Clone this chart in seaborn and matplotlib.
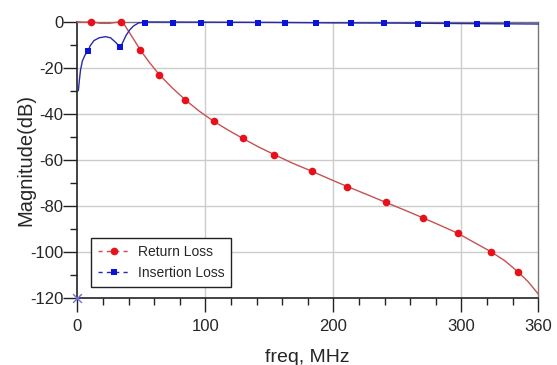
import matplotlib
matplotlib.use("Agg")
import matplotlib.pyplot as plt
import seaborn as sns
from matplotlib.lines import Line2D
from matplotlib.ticker import FixedLocator

# Return Loss curve (freq MHz, dB)
rl_freq = [0, 5, 11, 18, 25, 33.9, 37, 41, 45, 49.2, 56, 64, 74, 84.4, 95, 106.5, 118,
           129.1, 141, 153.9, 168, 183.1, 197, 211, 226, 241.1, 256, 270, 284, 297.2,
           310, 323, 334, 344, 352, 360]
rl_db = [0, -0.2, 0, -0.7, -0.7, 0, -1.5, -5, -8.5, -12.3, -17.5, -23, -28.7, -34, -38.8,
         -43.3, -47.2, -50.7, -54.3, -57.8, -61.5, -65, -68.4, -71.7, -75.1, -78.6, -82,
         -85.3, -88.7, -92, -96, -100, -104, -108.7, -113, -118.4]
rl_mark_freq = [10.9, 33.9, 49.2, 64, 84.4, 106.5, 129.1, 153.9, 183.1, 211, 241.1, 270,
                297.2, 323, 344]
rl_mark_db = [0, 0, -12.3, -23, -34, -43.3, -50.7, -57.8, -65, -71.7, -78.6, -85.3, -92,
              -100, -108.7]

# Insertion Loss curve
il_freq = [0.8, 1.5, 2.5, 4, 6, 8.3, 10, 13, 17, 22, 26, 30, 33.6, 35.5, 38, 41, 44, 48,
           54, 100, 150, 200, 250, 300, 360]
il_db = [-30, -26, -21, -17, -14.5, -12.8, -10.5, -8.2, -7, -6.5, -7, -9, -11.2, -9, -6,
         -3.5, -1.8, -0.5, -0.1, -0.2, -0.3, -0.5, -0.6, -0.8, -1]
il_mark_freq = [8.3, 33.6, 53.1, 74.7, 96.6, 119.5, 140.9, 162.5, 186.5, 213.8, 239.3,
                265.9, 288.8, 312.3, 335.7]
il_mark_db = [-12.8, -11.2, -0.4, -0.4, -0.4, -0.4, -0.4, -0.5, -0.5, -0.6, -0.7, -0.8,
              -0.8, -1.0, -1.0]

dc_freq = [0]
dc_db = [-120]

x_major = [0, 100, 200, 300, 360]
x_minor = [20, 40, 60, 80, 120, 140, 160, 180, 220, 240, 260, 280, 320, 340]
y_major = [0, -20, -40, -60, -80, -100, -120]
y_minor = [-10, -30, -50, -70, -90, -110]

sns.set_style("white")
plt.rcParams['font.family'] = ['Liberation Sans', 'DejaVu Sans']

fig = plt.figure(figsize=(5.57, 3.65), dpi=100)
ax = fig.add_axes([0.1388, 0.1844, 0.8276, 0.7561])

red_line = '#c85050'
red_mark = '#e8101a'
blue_line = '#2a2aa8'
blue_mark = '#0a14d8'

sns.lineplot(x=rl_freq, y=rl_db, ax=ax, color=red_line, lw=1.0, sort=False,
             estimator=None, zorder=3)
sns.lineplot(x=il_freq, y=il_db, ax=ax, color=blue_line, lw=1.0, sort=False,
             estimator=None, zorder=3)
sns.scatterplot(x=rl_mark_freq, y=rl_mark_db, ax=ax, color=red_mark, marker='o', s=30,
                linewidth=0, zorder=4, clip_on=False)
sns.scatterplot(x=il_mark_freq, y=il_mark_db, ax=ax, color=blue_mark, marker='s', s=24,
                linewidth=0, zorder=4, clip_on=False)
sns.scatterplot(x=dc_freq, y=dc_db, ax=ax, color='#7070d0', marker='x', s=40,
                linewidth=1.0, zorder=5, clip_on=False)
for ln in ax.lines:
    ln.set_clip_on(False)

ax.set_xlim(0, 360)
ax.set_ylim(-120, 0)
ax.xaxis.set_major_locator(FixedLocator(x_major))
ax.xaxis.set_minor_locator(FixedLocator(x_minor))
ax.yaxis.set_major_locator(FixedLocator(y_major))
ax.yaxis.set_minor_locator(FixedLocator(y_minor))
ax.set_xticklabels([str(v) for v in x_major])
ax.set_yticklabels([str(v) for v in y_major])

# grid at interior major ticks only
for v in [100, 200, 300]:
    ax.axvline(v, color='#cccccc', lw=1.0, zorder=1)
for v in [-20, -40, -60, -80, -100]:
    ax.axhline(v, color='#cccccc', lw=1.0, zorder=1)

ax.tick_params(axis='both', which='major', direction='out', length=10, width=1.0,
               color='#222222', labelsize=12)
ax.tick_params(axis='y', which='major', pad=0)
ax.tick_params(axis='x', which='major', pad=5)
ax.tick_params(axis='both', which='minor', direction='out', length=5, width=1.0,
               color='#222222')
ax.tick_params(left=True, bottom=True, which='both')

for side in ['left', 'bottom']:
    ax.spines[side].set_color('#222222')
    ax.spines[side].set_linewidth(1.2)
for side in ['top', 'right']:
    ax.spines[side].set_color('#777777')
    ax.spines[side].set_linewidth(1.0)

ax.set_xlabel('freq, MHz', fontsize=14, labelpad=11)
ax.set_ylabel('Magnitude(dB)', fontsize=14.5, labelpad=-3.5)

handles = [
    Line2D([0], [0], color=red_line, lw=1.0, ls=(0, (3, 3)), marker='o', ms=5.5,
           markerfacecolor=red_mark, markeredgewidth=0),
    Line2D([0], [0], color=blue_line, lw=1.0, ls=(0, (3, 3)), marker='s', ms=5,
           markerfacecolor=blue_mark, markeredgewidth=0),
]
leg = ax.legend(handles, ['Return Loss', 'Insertion Loss'], loc='lower left',
                bbox_to_anchor=(0.029, 0.038, 0.304, 0.186), mode='expand',
                fontsize=10, frameon=True, fancybox=False, framealpha=1,
                edgecolor='#222222', borderpad=0.5, handlelength=2.3,
                handletextpad=0.6, labelspacing=0.5, borderaxespad=0)
leg.get_frame().set_linewidth(1.0)

fig.savefig('out.png', dpi=100)
